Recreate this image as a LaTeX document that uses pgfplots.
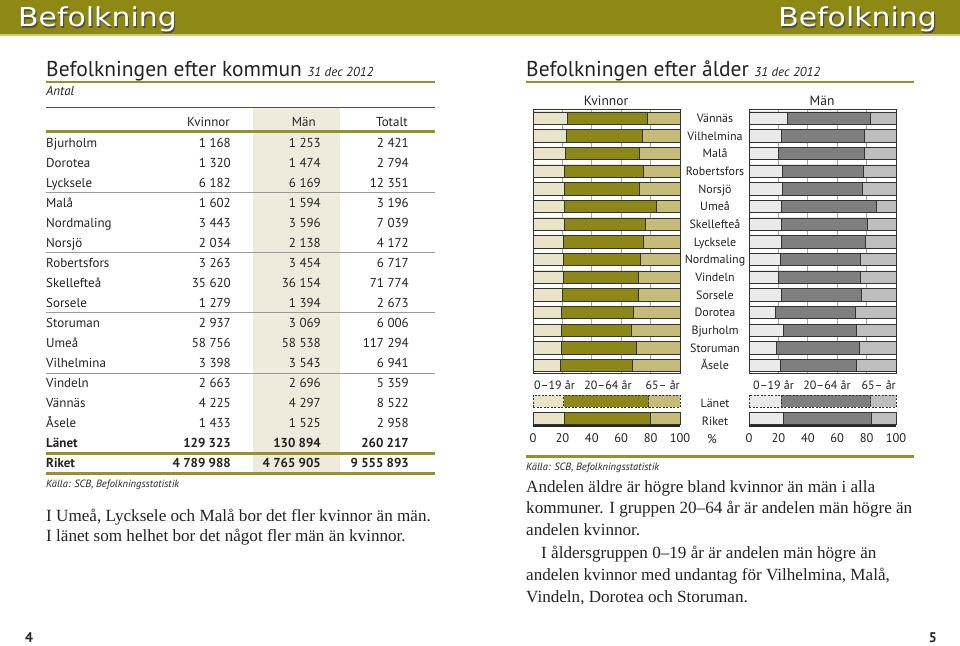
\documentclass[border=0pt]{standalone}
\usepackage{pgfplots}
\usepackage{pgfplotstable}
\usepackage{graphicx}
\pgfplotsset{compat=1.18}
\usepackage{fontspec}
\setmainfont{Liberation Serif}
\setsansfont{PT Sans}
\newfontfamily\hdrfont{DejaVu Sans}
\newcommand\fs[1]{\fontsize{#1}{#1}\selectfont}
\definecolor{olivebar}{RGB}{142,137,20}
\definecolor{oliverule}{RGB}{150,145,40}
\definecolor{hdrline}{RGB}{205,200,130}
\definecolor{manshade}{RGB}{239,235,220}
\definecolor{kLight}{RGB}{232,228,200}
\definecolor{kDark}{RGB}{140,135,23}
\definecolor{kMid}{RGB}{196,188,120}
\definecolor{mLight}{RGB}{234,234,234}
\definecolor{mDark}{RGB}{127,127,127}
\definecolor{mMid}{RGB}{190,190,190}
\definecolor{txt}{RGB}{35,35,35}

% y = minus pixel row; b1 = end of 0-19, b2 = end of 20-64
\pgfplotstableread{
y      b1    b2    full
-118.0 23.4  78.0  100
-135.7 22.6  74.6  100
-153.4 22.0  72.6  100
-171.0 21.3  75.1  100
-188.7 21.3  72.6  100
-206.4 21.3  83.9  100
-224.1 21.3  76.4  100
-241.8 20.6  75.1  100
-259.4 20.6  73.2  100
-277.1 20.4  71.9  100
-294.8 19.7  71.9  100
-312.5 19.3  68.0  100
-330.2 19.0  67.1  100
-347.8 19.0  70.1  100
-365.5 18.6  67.3  100
-418.5 21.5  79.6  100
}\kvinnor
\pgfplotstableread{
y      b1    b2    full
-401.0 20.9  78.7  100
}\kvinnorlan
\pgfplotstableread{
y      b1    b2    full
-118.0 25.9  82.3  100
-135.7 22.2  78.7  100
-153.4 20.0  78.7  100
-171.0 22.7  78.0  100
-188.7 22.4  77.1  100
-206.4 22.0  86.8  100
-224.1 22.0  80.5  100
-241.8 22.0  79.4  100
-259.4 21.3  76.0  100
-277.1 20.0  76.0  100
-294.8 22.2  76.4  100
-312.5 18.1  72.6  100
-330.2 23.1  73.0  100
-347.8 18.6  75.3  100
-365.5 21.5  73.2  100
-418.5 23.1  83.4  100
}\man
\pgfplotstableread{
y      b1    b2    full
-401.0 22.0  82.8  100
}\manlan

\pgfplotsset{
  agepanel/.style={scale only axis, width=147pt, height=318pt, anchor=north west,
    xmin=0, xmax=100, ymin=-427, ymax=-109, axis line style={draw=none},
    ytick=\empty, xtick={0,20,40,60,80,100}, major tick length=0pt,
    /pgf/number format/assume math mode=true,
    xticklabel style={font=\sffamily\fs{12.5}, text=txt, inner sep=0pt, anchor=north, yshift=-6.5pt},
    clip=false},
  seg/.style={xbar, bar width=12.3pt, bar shift=0pt, draw=black!80, line width=0.7pt, fill=#1, mark=none, forget plot},
  segd/.style={seg=#1, dash pattern=on 2pt off 1.5pt},
}

\newcommand\panel[5]{% table, lan table, light, dark, mid
  \pgfplotsinvokeforeach{20,40,60,80}{\draw[black!35, line width=0.7pt] (axis cs:##1,-109) -- (axis cs:##1,-374);}
  \addplot[seg=#5] table[x=full,y=y]{#1};
  \addplot[seg=#4] table[x=b2,y=y]{#1};
  \addplot[seg=#3] table[x=b1,y=y]{#1};
  \addplot[segd=#5] table[x=full,y=y]{#2};
  \addplot[segd=#4] table[x=b2,y=y]{#2};
  \addplot[segd=#3] table[x=b1,y=y]{#2};
  \draw[black!80, line width=0.9pt] (axis cs:0,-109.5) rectangle (axis cs:100,-373);
  \draw[black!85, line width=1.2pt] (axis cs:0,-426) -- (axis cs:100,-426);
}

\begin{document}
\begin{tikzpicture}[x=1pt,y=1pt]
\path[fill=white] (0,0) rectangle (960,-645);
% ---------- header band
\fill[olivebar] (0,0) rectangle (960,-33.5);
\fill[hdrline] (0,-33.5) rectangle (960,-35.5);
\begin{scope}[every node/.style={inner sep=0pt, font=\hdrfont\fs{26}}]
\node[anchor=base west, text=black!70] at (19.2,-28.2) {\scalebox{1.15}[1]{Befolkning}};
\node[anchor=base west, text=white] at (18,-27) {\scalebox{1.15}[1]{Befolkning}};
\node[anchor=base east, text=black!70] at (938.2,-28.2) {\scalebox{1.15}[1]{Befolkning}};
\node[anchor=base east, text=white] at (937,-27) {\scalebox{1.15}[1]{Befolkning}};
\end{scope}

% ---------- left page: table
\begin{scope}[every node/.style={inner sep=0pt, text=txt, font=\sffamily\fs{13}}]
\node[anchor=base west, font=\sffamily\fs{21.5}] at (46,-76) {Befolkningen efter kommun \fs{13}\itshape 31 dec 2012};
\fill[oliverule] (46,-81) rectangle (435,-83.2);
\node[anchor=base west, font=\sffamily\itshape\fs{13}] at (46,-95) {Antal};
\fill[manshade] (253,-107.5) rectangle (340,-474);
\draw[black!70, line width=0.8pt] (46,-107) -- (435,-107);
\node[anchor=base east] at (230,-126) {Kvinnor};
\node[anchor=base east] at (316,-126) {Män};
\node[anchor=base east] at (408,-126) {Totalt};
\fill[oliverule] (46,-130) rectangle (435,-132.5);
\foreach \yy in {192,252,312.5,373}{\draw[black!40, line width=0.7pt] (46,-\yy) -- (435,-\yy);}
\foreach \n/\k/\m/\t [count=\i from 0] in {Bjurholm/1 168/1 253/2 421, Dorotea/1 320/1 474/2 794, Lycksele/6 182/6 169/12 351, Malå/1 602/1 594/3 196, Nordmaling/3 443/3 596/7 039, Norsjö/2 034/2 138/4 172, Robertsfors/3 263/3 454/6 717, Skellefteå/35 620/36 154/71 774, Sorsele/1 279/1 394/2 673, Storuman/2 937/3 069/6 006, Umeå/58 756/58 538/117 294, Vilhelmina/3 398/3 543/6 941, Vindeln/2 663/2 696/5 359, Vännäs/4 225/4 297/8 522, Åsele/1 433/1 525/2 958}{
  \pgfmathsetmacro\yb{-(147+20*\i)}
  \node[anchor=base west] at (46,\yb) {\n};
  \node[anchor=base east] at (231,\yb) {\k};
  \node[anchor=base east] at (321,\yb) {\m};
  \node[anchor=base east] at (409,\yb) {\t};
}
\node[anchor=base west, font=\sffamily\bfseries\fs{13}] at (46,-447) {Länet};
\node[anchor=base east, font=\sffamily\bfseries\fs{13}] at (231,-447) {129 323};
\node[anchor=base east, font=\sffamily\bfseries\fs{13}] at (321,-447) {130 894};
\node[anchor=base east, font=\sffamily\bfseries\fs{13}] at (409,-447) {260 217};
\fill[oliverule] (46,-452) rectangle (435,-454.5);
\node[anchor=base west, font=\sffamily\bfseries\fs{13}] at (46,-467) {Riket};
\node[anchor=base east, font=\sffamily\bfseries\fs{13}] at (231,-467) {4 789 988};
\node[anchor=base east, font=\sffamily\bfseries\fs{13}] at (321,-467) {4 765 905};
\node[anchor=base east, font=\sffamily\bfseries\fs{13}] at (409,-467) {9 555 893};
\fill[oliverule] (46,-472) rectangle (435,-474.5);
\node[anchor=base west, font=\sffamily\itshape\fs{10.5}] at (46,-487) {Källa: SCB, Befolkningsstatistik};
\end{scope}
\begin{scope}[every node/.style={inner sep=0pt, text=txt, font=\rmfamily\fs{17.1}, anchor=base west}]
\node at (46,-521) {I Umeå, Lycksele och Malå bor det fler kvinnor än män.};
\node at (46,-541.5) {I länet som helhet bor det något fler män än kvinnor.};
\node at (526,-492) {Andelen äldre är högre bland kvinnor än män i alla};
\node at (526,-513.5) {kommuner. I gruppen 20–64 år är andelen män högre än};
\node at (526,-535.5) {andelen kvinnor.};
\node at (541,-558.5) {I åldersgruppen 0–19 år är andelen män högre än};
\node at (526,-580.5) {andelen kvinnor med undantag för Vilhelmina, Malå,};
\node at (526,-602.5) {Vindeln, Dorotea och Storuman.};
\end{scope}
\node[anchor=base west, inner sep=0pt, font=\sffamily\bfseries\fs{14}, text=txt] at (25,-642) {4};
\node[anchor=base east, inner sep=0pt, font=\sffamily\bfseries\fs{14}, text=txt] at (937,-642) {5};

% ---------- right page: chart
\begin{scope}[every node/.style={inner sep=0pt, text=txt, font=\sffamily\fs{12}}]
\node[anchor=base west, font=\sffamily\fs{21.5}] at (526,-76) {Befolkningen efter ålder \fs{13}\itshape 31 dec 2012};
\fill[oliverule] (526,-81) rectangle (914,-83.2);
\node[anchor=base, font=\sffamily\fs{13.5}] at (606,-105) {Kvinnor};
\node[anchor=base, font=\sffamily\fs{13.5}] at (822,-105) {Män};
\foreach \n/\yy in {Vännäs/118.0, Vilhelmina/135.7, Malå/153.4, Robertsfors/171.0, Norsjö/188.7, Umeå/206.4, Skellefteå/224.1, Lycksele/241.8, Nordmaling/259.4, Vindeln/277.1, Sorsele/294.8, Dorotea/312.5, Bjurholm/330.2, Storuman/347.8, Åsele/365.5, Länet/403, Riket/421}{
  \node[anchor=base] at (715,-\yy-4.3) {\n};
}
\node[anchor=base west] at (534,-389.5) {0–19 år};
\node[anchor=base] at (608,-389.5) {20–64 år};
\node[anchor=base east] at (680,-389.5) {65– år};
\node[anchor=base west] at (753,-389.5) {0–19 år};
\node[anchor=base] at (827,-389.5) {20–64 år};
\node[anchor=base east] at (896,-389.5) {65– år};
\node[anchor=base, font=\sffamily\fs{12.5}] at (712,-443) {\%};
\fill[oliverule] (526,-455) rectangle (914,-457.5);
\node[anchor=base west, font=\sffamily\itshape\fs{10.5}] at (526,-470) {Källa: SCB, Befolkningsstatistik};
\end{scope}

\begin{axis}[agepanel, at={(533pt,-109pt)}]
\panel{\kvinnor}{\kvinnorlan}{kLight}{kDark}{kMid}
\end{axis}
\begin{axis}[agepanel, at={(749pt,-109pt)}]
\panel{\man}{\manlan}{mLight}{mDark}{mMid}
\end{axis}
\end{tikzpicture}
\end{document}
